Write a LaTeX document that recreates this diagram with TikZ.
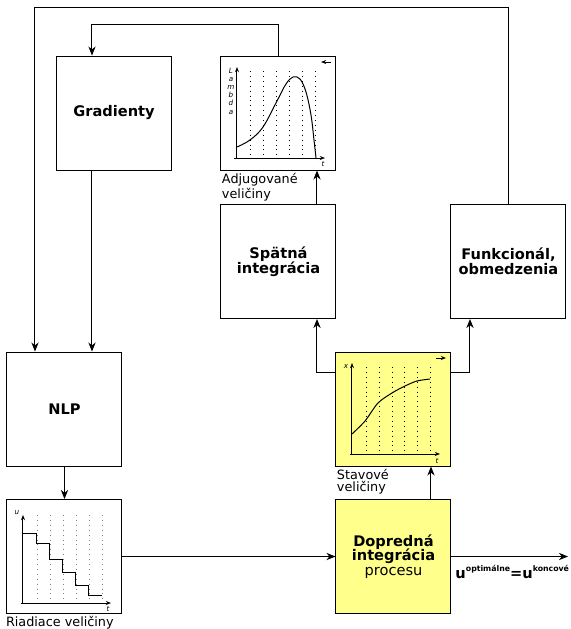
\documentclass[tikz,border=0pt]{standalone}
\usepackage{fontspec}
\setmainfont{DejaVu Sans}
\usetikzlibrary{arrows.meta, positioning, calc}
\definecolor{procyellow}{RGB}{255,255,140}
\newcommand\supsmall[1]{\raisebox{3.2pt}{\fontsize{3.9}{4}\selectfont #1}}

\begin{document}
\begin{tikzpicture}[
    x=0.5pt, y=-0.5pt,
    line width=0.5pt,
    box/.style={rectangle, draw, fill=white, minimum width=57.5pt, minimum height=57pt, inner sep=0pt, align=center, font=\fontsize{7.3}{7.4}\selectfont\bfseries},
    yellowbox/.style={box, fill=procyellow},
    vlabel/.style={align=left, inner sep=0.5pt, font=\fontsize{6.4}{6.2}\selectfont},
    arrow/.style={-{Stealth[length=4.5pt, width=3.6pt, inset=1.4pt]}},
    axis/.style={-{Stealth[length=2.6pt, width=2pt]}, line width=0.5pt},
    gridline/.style={dotted, line width=0.45pt},
    axlabel/.style={inner sep=0pt, font=\fontsize{3.6}{4.1}\selectfont\itshape}
  ]
  \useasboundingbox (0,0) rectangle (570,629);

  % Uzly
  \node (grad) [box] at (114,113) {Gradienty};
  \node (adj) [box] at (278.5,113) {};
  \node (spat) [box] at (278.5,261.5) {Spätná\\integrácia};
  \node (funk) [box] at (508.5,261.5) {Funkcionál,\\obmedzenia};
  \node (nlp) [box] at (64.5,409) {NLP};
  \node (stav) [yellowbox] at (393.5,409) {};
  \node (riad) [box] at (64.5,556.5) {};
  \node (dopr) [yellowbox] at (393.5,556.5) {Dopredná\\integrácia\\{\mdseries procesu}};

  % Popisy
  \node (adjlbl) [vlabel, below right=0.5pt and 0pt of adj.south west] {Adjugované\\veličiny};
  \node (stavlbl) [vlabel, below right=0.5pt and 0pt of stav.south west] {Stavové\\veličiny};
  \node (riadlbl) [vlabel, below right=0.5pt and -1pt of riad.south west] {Riadiace veličiny};

  % Graf: adjungovane veliciny
  \foreach \xx in {250,263,276,289,302,315}
    \draw[gridline] (\xx,71) -- (\xx,158);
  \draw[axis] (237,158) -- (237,67);
  \draw[axis] (234,158) -- (325,158);
  \draw plot[smooth, tension=0.6] coordinates {(237,147) (250,140) (263,127) (277,101) (286,84) (293,77) (300,79) (306,92) (311,115) (314,140) (316,158)};
  \node[axlabel, align=center] at (231,91) {L\\a\\m\\b\\d\\a};
  \node[axlabel] at (323,164) {t};
  \draw[axis] (331,62) -- (321,62);

  % Graf: stavove veliciny
  \foreach \xx in {366,379,392,404,417,430}
    \draw[gridline] (\xx,367) -- (\xx,454);
  \draw[axis] (352,454) -- (352,363);
  \draw[axis] (350,454) -- (440,454);
  \draw plot[smooth] coordinates {(352,434) (365,421) (378,403) (392,393) (405,386) (417,381) (430,379)};
  \node[axlabel] at (346,367) {x};
  \node[axlabel] at (437,461) {t};
  \draw[axis] (436,358) -- (446,358);

  % Graf: riadiace veliciny
  \foreach \xx in {37,50,63,76,89,102}
    \draw[gridline, gray] (\xx,515) -- (\xx,603);
  \draw[axis] (23,603) -- (23,515);
  \draw[axis] (21,603) -- (111,603);
  \draw (23,533) -| (37,543) -| (50,559) -| (63,572) -| (76,585) -| (89,595) -- (102,595);
  \node[axlabel] at (17,513) {u};
  \node[axlabel] at (108,609) {t};

  % Spojenia
  \coordinate (outer) at (35,7);
  \coordinate (inner) at (92,24);
  \coordinate (stl) at (317,372);
  \coordinate (str) at (470,372);
  \coordinate (out) at (568,556.5);
  \draw [arrow] (funk.north) |- (outer) -- (outer |- nlp.north);
  \draw [arrow] (adj.north) |- (inner) -- (inner |- grad.north);
  \draw [arrow] (inner |- grad.south) -- (inner |- nlp.north);
  \draw [arrow] (nlp.south) -- (riad.north);
  \draw [arrow] (riad.east) -- (dopr.west);
  \draw [arrow] ($(dopr.north)+(37.5,0)$) -- ($(stav.south)+(37.5,0)$);
  \draw [arrow] (stl -| stav.west) -- (stl) -- (stl |- spat.south);
  \draw [arrow] (str -| stav.east) -- (str) -- (str |- funk.south);
  \draw [arrow] (stl |- spat.north) -- (stl |- adj.south);
  \draw [arrow] (dopr.east) -- (out);
  \node (uopt) [anchor=north west, inner sep=0pt, font=\fontsize{7.3}{8}\selectfont\bfseries] at (455,565) {u\supsmall{optimálne}=u\supsmall{koncové}};

\end{tikzpicture}
\end{document}
